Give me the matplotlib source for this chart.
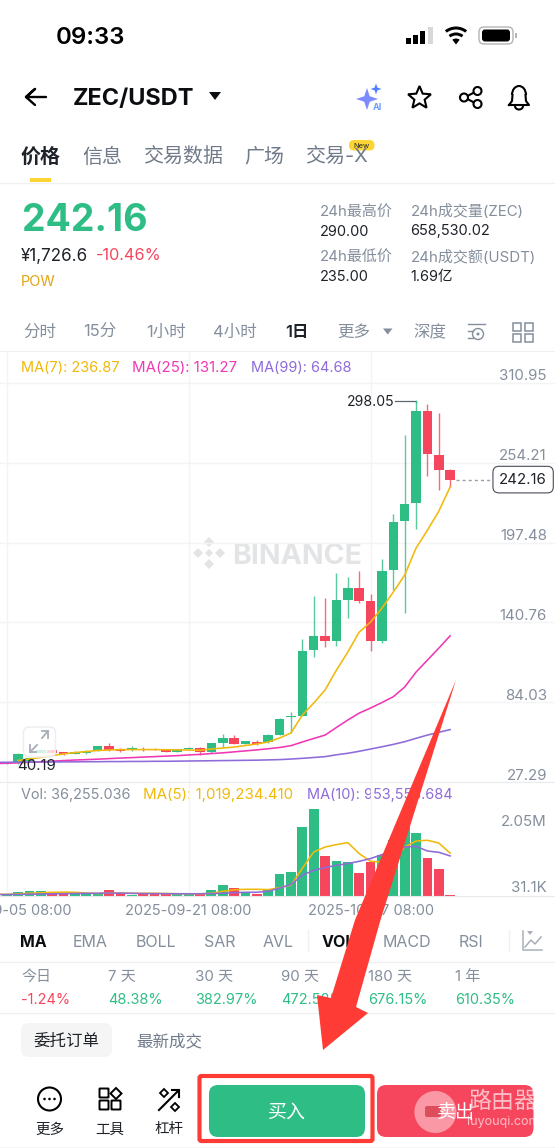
#!/usr/bin/env python3
"""ZEC/USDT daily candle screen: app chrome, price panel, volume panel, red arrow on top."""
import matplotlib
matplotlib.use("Agg")
import matplotlib.pyplot as plt
from matplotlib.patches import Circle, FancyBboxPatch, Polygon, Rectangle, Wedge, Arc
import numpy as np

# ── Data ───────────────────────────────────────────────────────────────

OPENS = [40.8, 41.9, 42.4, 48.3, 50.2, 48.6, 47.6, 47.9, 49.7, 52.8,
         50.2, 50.0, 51.1, 50.9, 50.7, 49.0, 50.9, 51.6, 49.0, 55.4,
         58.5, 54.7, 56.1, 55.7, 61.2, 73.6, 74.3, 121.1, 131.0, 127.5,
         156.6, 164.9, 155.9, 127.5, 177.9, 212.8, 225.9, 290.6, 259.9, 248.8]
CLOSES = [41.7, 47.4, 44.7, 50.2, 48.3, 47.2, 48.8, 49.5, 52.8, 50.2,
          49.7, 51.4, 50.4, 50.4, 49.0, 50.7, 51.8, 48.6, 55.0, 58.5,
          54.7, 56.4, 54.7, 61.1, 72.0, 74.3, 120.4, 131.0, 127.5, 156.6,
          164.9, 155.9, 127.5, 177.2, 212.1, 224.9, 290.6, 260.3, 249.0, 242.16]
HIGHS = [42.0, 47.8, 45.0, 50.6, 50.6, 49.0, 49.2, 50.2, 53.1, 55.4,
         51.4, 53.3, 52.1, 51.4, 51.1, 51.1, 52.3, 52.3, 55.0, 61.3,
         60.8, 56.8, 57.1, 61.5, 73.1, 77.2, 128.9, 159.4, 157.8, 175.9,
         172.7, 177.2, 160.8, 185.5, 217.4, 273.6, 298.05, 295.8, 289.7, 249.5]
LOWS = [40.5, 40.19, 42.2, 48.0, 48.0, 46.4, 47.2, 47.2, 49.5, 49.5,
        49.0, 49.5, 49.7, 50.0, 48.6, 48.6, 50.6, 46.7, 47.9, 52.1,
        54.2, 54.4, 53.7, 55.0, 60.8, 62.3, 74.3, 116.4, 123.5, 124.2,
        143.6, 154.7, 120.6, 125.9, 163.7, 147.6, 207.2, 245.0, 235.1, 236.9]
VOLUMES = [47, 94, 135, 125, 78, 54, 71, 64, 64, 142,
           78, 31, 64, 64, 54, 54, 54, 64, 149, 260,
           205, 78, 47, 140, 519, 573, 1635, 2050, 960, 842,
           819, 543, 809, 968, 1320, 1975, 1487, 913, 654, 36]

MA7 = [42.8, 43.8, 44.9, 46.3, 47.4, 48.4, 49.1, 49.9, 50.2, 50.5,
       50.5, 50.5, 50.5, 50.4, 50.3, 50.2, 50.0, 50.9, 51.6, 52.3,
       53.4, 54.5, 55.9, 58.7, 62.3, 75.0, 83.5, 92.8, 106.9, 119.7,
       133.9, 141.0, 150.9, 162.3, 174.3, 193.5, 206.2, 219.7, 236.87]
MA25 = [40.6, 40.8, 41.1, 41.5, 41.8, 42.3, 42.7, 43.1, 43.4, 43.7,
        44.1, 44.5, 44.8, 45.2, 45.5, 45.9, 46.2, 46.7, 47.1, 47.7,
        48.2, 48.9, 49.6, 50.3, 51.1, 52.0, 53.3, 55.9, 58.4, 60.8,
        66.2, 71.5, 76.4, 80.0, 83.9, 88.0, 94.9, 105.5, 114.0, 122.5, 131.27]
MA99 = [41.5, 41.5, 41.6, 41.6, 41.7, 41.7, 41.8, 41.8, 41.9, 41.9,
        42.0, 42.0, 42.1, 42.1, 42.2, 42.2, 42.3, 42.4, 42.5, 42.6,
        42.7, 42.8, 42.9, 43.0, 43.2, 43.4, 43.8, 44.3, 44.9, 45.5,
        46.8, 47.9, 49.3, 50.9, 52.5, 54.2, 56.1, 58.5, 60.8, 62.8, 64.68]
VOL_MA5 = [47, 47, 59, 71, 83, 94, 99, 94, 78, 66,
           78, 78, 71, 71, 71, 66, 61, 59, 59, 71,
           118, 153, 165, 165, 158, 205, 260, 661, 1045, 1163,
           1220, 1267, 1008, 826, 809, 850, 1163, 1305, 1322, 1258, 1019]
VOL_MA10 = [40, 42, 45, 50, 55, 58, 62, 66, 70, 72,
            76, 74, 70, 66, 64, 62, 60, 60, 60, 65,
            72, 85, 95, 95, 118, 196, 276, 496, 614, 677,
            732, 772, 826, 890, 984, 1045, 1163, 1180, 1069, 1038, 953]

PRICE_TICKS = [310.95, 254.21, 197.48, 140.76, 84.03, 27.29]
DATE_TICKS = [0, 16, 32]
DATE_LABELS = ["2025-09-05 08:00", "2025-09-21 08:00", "2025-10-07 08:00"]
LAST_PRICE = 242.16
HIGH_PRICE = 298.05
LOW_PRICE = 40.19

INDICATORS = ["MA", "EMA", "BOLL", "SAR", "AVL", "VOL", "MACD", "RSI"]
PERIODS = ["今日", "7 天", "30 天", "90 天", "180 天", "1 年"]
PERIOD_CHANGES = ["-1.24%", "48.38%", "382.97%", "472.58%", "676.15%", "610.35%"]

# ── Colors ─────────────────────────────────────────────────────────────

GREEN = "#2EBD85"
PINK = "#F6465D"
YELLOW = "#F0B90B"
MAGENTA = "#F037B5"
PURPLE = "#8E6BD8"
DARK = "#1E2329"
GRAY = "#848E9C"
TAB_GRAY = "#707A8A"
GRID = "#F3F4F5"
LINE = "#EEF0F2"
RED = "#FF3B35"

FONT = ["Inter", "Noto Sans CJK SC", "DejaVu Sans"]
PX = 0.72  # points per pixel at dpi 100
AXIS_SIZE = 15 * PX

W, H = 555, 1148
plt.rcParams["font.family"] = FONT

fig = plt.figure(figsize=(W / 100, H / 100), dpi=100, facecolor="white")


def pixel_axes(zorder):
    ax = fig.add_axes([0, 0, 1, 1], zorder=zorder)
    ax.set_xlim(0, W)
    ax.set_ylim(H, 0)
    ax.axis("off")
    ax.patch.set_alpha(0)
    return ax


def txt(ax, x, y, s, size, color=DARK, weight="normal", ha="center", **kw):
    ax.text(x, y, s, fontsize=size * PX, color=color, fontweight=weight,
            ha=ha, va="center_baseline", family=FONT, **kw)


def pill(ax, x0, y0, x1, y1, r, **kw):
    ax.add_patch(FancyBboxPatch((x0 + r, y0 + r), x1 - x0 - 2 * r, y1 - y0 - 2 * r,
                                boxstyle=f"round,pad={r}", **kw))


def poly(ax, pts, **kw):
    ax.add_patch(Polygon(pts, closed=True, **kw))


ui = pixel_axes(0)

# ── Status bar and title row ───────────────────────────────────────────

txt(ui, 90.5, 36, "09:33", 24, "#000000", "semibold")
for k, (bx, bh) in enumerate(zip([406, 413, 420, 427.5], [6, 9, 13, 17])):
    ui.add_patch(Rectangle((bx, 44 - bh), 5.2, bh, color="#000000" if k < 3 else "#D8D8D8", lw=0))
# y runs downward here, so the fan opens towards 270 degrees
ui.add_patch(Wedge((456, 44.5), 6, 232, 308, color="#000000", lw=0))
ui.add_patch(Wedge((456, 44.5), 12, 232, 308, width=3, color="#000000", lw=0))
ui.add_patch(Wedge((456, 44.5), 18, 232, 308, width=3, color="#000000", lw=0))
pill(ui, 479, 27, 513, 44, 5, fc="white", ec="#B5B5B5", lw=1)
pill(ui, 482, 29.5, 510, 41.5, 3, fc="#000000", ec="none")
ui.add_patch(Rectangle((515, 33), 1.5, 5, color="#B5B5B5", lw=0))

ui.plot([46, 26, 35, 26, 35], [97, 97, 89, 97, 105], color="#000000", lw=1.7, solid_capstyle="round")
txt(ui, 72.5, 97, "ZEC/USDT", 23.5, "#0B0E11", "bold", ha="left")
poly(ui, [(209, 92), (221, 92), (215, 100)], color="#0B0E11", lw=0)

# AI sparkle
for cx, cy, r, c in [(367, 99, 11, "#7C8CFF"), (376, 89, 5.5, "#4F7DFF")]:
    poly(ui, [(cx - r, cy), (cx - r * 0.25, cy - r * 0.25), (cx, cy - r), (cx + r * 0.25, cy - r * 0.25),
              (cx + r, cy), (cx + r * 0.25, cy + r * 0.25), (cx, cy + r), (cx - r * 0.25, cy + r * 0.25)],
         color=c, lw=0)
txt(ui, 377, 106.5, "AI", 9, "#6F9BFF", "bold")

# star, share, bell
star_a = np.deg2rad(np.arange(-90, 270, 36))
star_r = np.where(np.arange(10) % 2 == 0, 12, 5.4)
poly(ui, np.c_[419.5 + star_r * np.cos(star_a), 98 + star_r * np.sin(star_a)], fc="none", ec="#000000", lw=1.5)
ui.plot([477, 464.5, 477], [91, 97.5, 104], color="#000000", lw=1.5)
for cx, cy in [(477.5, 91), (464, 97.5), (477.5, 104)]:
    ui.add_patch(Circle((cx, cy), 4, fc="white", ec="#000000", lw=1.5, zorder=3))
ui.plot([509, 512, 512.5], [105, 101, 95], color="#000000", lw=1.5)
ui.add_patch(Arc((519, 95), 14, 18, theta1=180, theta2=360, ec="#000000", lw=1.5))
ui.plot([525.5, 526, 529, 509], [95, 101, 105, 105], color="#000000", lw=1.5)
ui.add_patch(Arc((519, 106), 8, 7, theta1=0, theta2=180, ec="#000000", lw=1.5))

# ── Tabs and quote block ───────────────────────────────────────────────

for x, s in zip([41, 102, 183, 264, 336], ["价格", "信息", "交易数据", "广场", "交易-X"]):
    first = s == "价格"
    txt(ui, x, 155, s, 20, DARK if first else TAB_GRAY, "bold" if first else "normal")
pill(ui, 349, 140, 374.5, 150.5, 5, fc="#FCD535", ec="none")
txt(ui, 361.5, 145.5, "New", 7.5, DARK)
ui.add_patch(Rectangle((30, 178), 21, 3.5, color="#FCD535", lw=0))
ui.plot([0, W], [182.5, 182.5], color=LINE, lw=1)

txt(ui, 21.5, 217, "242.16", 37.5, GREEN, "bold", ha="left")
txt(ui, 21, 254, "¥1,726.6", 17, DARK, ha="left")
txt(ui, 96, 254, "-10.46%", 16.3, PINK, ha="left")
txt(ui, 21, 281, "POW", 14.5, "#E0A50F", ha="left")

for x, s, y in [(320, "24h最高价", 210), (320, "24h最低价", 255.5),
                (410.5, "24h成交量(ZEC)", 210), (410.5, "24h成交额(USDT)", 255.5)]:
    txt(ui, x, y, s, 15, GRAY, ha="left")
for x, s, y in [(320, "290.00", 230), (320, "235.00", 275.5),
                (410.5, "658,530.02", 230), (410.5, "1.69亿", 275.5)]:
    txt(ui, x, y, s, 14.5, DARK, ha="left")

for x, s in zip([40, 100, 166, 235, 354, 430], ["分时", "15分", "1小时", "4小时", "更多", "深度"]):
    txt(ui, x, 331, s, 16.5, GRAY)
txt(ui, 296.5, 331, "1日", 16.5, DARK, "semibold")
poly(ui, [(383, 328.5), (392.5, 328.5), (387.7, 334.5)], color=GRAY, lw=0)

ui.plot([468, 485], [324, 324], color=GRAY, lw=1)
ui.plot([468, 473], [331, 331], color=GRAY, lw=1)
ui.plot([468, 473], [338, 338], color=GRAY, lw=1)
ui.add_patch(Circle((478, 334), 5.5, fc="none", ec=GRAY, lw=1))
ui.add_patch(Circle((478, 334), 1.5, color=GRAY, lw=0))
for qx, qy in [(513, 323), (525, 323), (513, 334), (525, 334)]:
    ui.add_patch(Rectangle((qx, qy), 8, 7.5, fc="none", ec=GRAY, lw=1.1))
ui.plot([0, W], [351, 351], color=LINE, lw=0.8)

# BINANCE watermark behind the candles
for dx, dy, r in [(0, -11, 5), (-11, 0, 5), (11, 0, 5), (0, 11, 5)]:
    poly(ui, [(209 + dx - r, 553 + dy), (209 + dx, 553 + dy - r), (209 + dx + r, 553 + dy), (209 + dx, 553 + dy + r)],
         color="#E3E4E6", lw=0)
poly(ui, [(205, 553), (209, 549), (213, 553), (209, 557)], color="#E3E4E6", lw=0)
txt(ui, 232.5, 553, "BINANCE", 28.5, "#E3E4E6", "bold", ha="left")

# ── Chart axes: pixel anchors ──────────────────────────────────────────

X0, DX = 6.7, 11.37
PRICE_TOP_PX, PRICE_BOT_PX, GRID_TOP_PX = 352.0, 782.3, 382.7
VOL_TOP_PX, VOL_BOT_PX = 783.0, 896.3
PRICE_PER_PX = (PRICE_TICKS[0] - PRICE_TICKS[-1]) / (PRICE_BOT_PX - GRID_TOP_PX)
VOL_PER_PX = 23.6  # thousands


def chart_axes(top, bottom):
    ax = fig.add_axes([0, 1 - bottom / H, 1, (bottom - top) / H], zorder=1)
    ax.patch.set_alpha(0)
    ax.set_xlim(-X0 / DX, (W - X0) / DX)
    for side in ["top", "left", "right"]:
        ax.spines[side].set_visible(False)
    ax.set_xticks(DATE_TICKS)
    ax.grid(True, color=GRID, lw=1)
    ax.set_axisbelow(True)
    ax.tick_params(length=0, labelleft=False, labelbottom=False)
    return ax


days = np.arange(len(OPENS))
opens, closes, highs, lows = map(np.array, (OPENS, CLOSES, HIGHS, LOWS))
candle_colors = [GREEN if c >= o else PINK for o, c in zip(opens, closes)]

# ── Price panel ────────────────────────────────────────────────────────

ax = chart_axes(PRICE_TOP_PX, PRICE_BOT_PX)
ax.set_ylim(PRICE_TICKS[-1], PRICE_TICKS[-1] + (PRICE_BOT_PX - PRICE_TOP_PX) * PRICE_PER_PX)
ax.set_yticks(PRICE_TICKS)
ax.spines["bottom"].set_color("#E9EBED")

ax.vlines(days, lows, highs, colors=candle_colors, lw=1.0, zorder=2, alpha=0.8)
ax.bar(days, closes - opens, bottom=opens, width=0.84, color=candle_colors, lw=0, zorder=3)
ax.plot(np.arange(1, 40), MA7, color=YELLOW, lw=1.15, zorder=5)
ax.plot(np.arange(-1, 40), MA25, color=MAGENTA, lw=1.15, zorder=4)
ax.plot(np.arange(-1, 40), MA99, color=PURPLE, lw=1.15, zorder=4)

for val in PRICE_TICKS:
    ax.annotate(f"{val:.2f}", (1, val), xycoords=("axes fraction", "data"),
                xytext=(-8 * PX, 8 * PX), textcoords="offset points",
                fontsize=AXIS_SIZE, color=GRAY, ha="right", va="center_baseline", family=FONT)

peak = int(np.argmax(highs))
ax.plot([peak - 1.85, peak], [HIGH_PRICE, HIGH_PRICE], color="#5E6673", lw=0.9, zorder=6)
ax.plot([peak, peak], [HIGH_PRICE, HIGHS[peak] - 0.5], color=GREEN, lw=1, zorder=6)
ax.text(peak - 1.9, HIGH_PRICE, f"{HIGH_PRICE:.2f}", fontsize=14 * PX, color=DARK,
        ha="right", va="center_baseline", family=FONT, zorder=6)
ax.text(0.9, LOW_PRICE - 0.6, f"{LOW_PRICE:.2f}", fontsize=AXIS_SIZE, color=DARK,
        ha="left", va="center_baseline", family=FONT, zorder=6)
ax.plot([39.5, 42.7], [LAST_PRICE, LAST_PRICE], color="#9AA0A8", lw=1, ls=(0, (2.2, 2.2)), zorder=6)
ax.annotate(f"{LAST_PRICE:.2f}", (1, LAST_PRICE), xycoords=("axes fraction", "data"),
            xytext=(-8 * PX, 0), textcoords="offset points",
            fontsize=AXIS_SIZE, color=DARK, ha="right", va="center", family=FONT, zorder=7,
            bbox=dict(boxstyle="round,pad=0.42,rounding_size=0.4", fc="white", ec="#474D57", lw=0.8))

txt(ui, 21, 366, "MA(7): 236.87", 14.5, YELLOW, ha="left")
txt(ui, 132, 366, "MA(25): 131.27", 15, MAGENTA, ha="left")
txt(ui, 251, 366, "MA(99): 64.68", 14.5, PURPLE, ha="left")

# ── Volume panel ───────────────────────────────────────────────────────

vax = chart_axes(VOL_TOP_PX, VOL_BOT_PX)
vax.set_ylim(0, (VOL_BOT_PX - VOL_TOP_PX) * VOL_PER_PX)
vax.set_yticks([])
vax.spines["bottom"].set_color("#E6E8EA")
vax.bar(days, VOLUMES, width=0.86, color=candle_colors, lw=0, zorder=2)
vax.plot(np.arange(-1, 40), VOL_MA5, color=YELLOW, lw=1.15, zorder=4)
vax.plot(np.arange(-1, 40), VOL_MA10, color=PURPLE, lw=1.15, zorder=4)
vax.set_xticks(DATE_TICKS, DATE_LABELS)
vax.tick_params(labelbottom=True, labelsize=14.6 * PX, labelcolor=GRAY, pad=5.2)
vax.annotate("2.05M", (1, max(VOLUMES)), xycoords=("axes fraction", "data"),
             xytext=(-8 * PX, -11 * PX), textcoords="offset points",
             fontsize=AXIS_SIZE, color=GRAY, ha="right", va="center_baseline", family=FONT)
vax.annotate("31.1K", (1, 31.1), xycoords=("axes fraction", "data"),
             xytext=(-8 * PX, 8 * PX), textcoords="offset points",
             fontsize=AXIS_SIZE, color=GRAY, ha="right", va="center_baseline", family=FONT)

txt(ui, 21, 793, "Vol: 36,255.036", 14.4, GRAY, ha="left")
txt(ui, 143, 793, "MA(5): 1,019,234.410", 15.1, YELLOW, ha="left")
txt(ui, 307, 793, "MA(10): 953,553.684", 14.5, PURPLE, ha="left")

# ── Indicator row, returns, order tabs ─────────────────────────────────

for x, s in zip([33.5, 90.5, 156, 219.5, 278, 338, 407, 471], INDICATORS):
    bold = s in ("MA", "VOL")
    txt(ui, x, 941, s, 16, "#0B0E11" if bold else GRAY, "bold" if bold else "normal")
ui.plot([308, 308], [930, 951], color=LINE, lw=1)
ui.plot([508.7, 508.7], [930, 951], color=LINE, lw=1)
ui.plot([523, 523, 542], [931, 950, 950], color="#A9AFB8", lw=1.1)
ui.plot([525, 531, 535, 541], [947, 940, 944, 937], color="#A9AFB8", lw=1.1)
poly(ui, [(527, 931), (533, 931), (530, 935)], color="#A9AFB8", lw=0)
ui.plot([0, W], [961.7, 961.7], color=LINE, lw=1)

for x, label, change in zip([21, 108, 194.7, 281.4, 368, 455], PERIODS, PERIOD_CHANGES):
    txt(ui, x, 975, label, 15, GRAY, ha="left")
    txt(ui, x, 999, change, 14.5, PINK if change.startswith("-") else GREEN, ha="left")
ui.plot([0, W], [1012.7, 1012.7], color=LINE, lw=1)

pill(ui, 21, 1023, 112, 1057, 8, fc="#F5F5F5", ec="none")
txt(ui, 66.5, 1039.5, "委托订单", 16.5, DARK, "medium")
txt(ui, 169, 1039.5, "最新成交", 16.5, TAB_GRAY, "medium")

# ── Bottom bar ─────────────────────────────────────────────────────────

ui.add_patch(Circle((49.5, 1099), 11.5, fc="none", ec="#000000", lw=1.5))
for dx in (-5, 0, 5):
    ui.add_patch(Circle((49.5 + dx, 1099), 1.3, color="#000000", lw=0))
for qx, qy in [(100, 1089), (100, 1101), (112, 1101)]:
    ui.add_patch(FancyBboxPatch((qx, qy), 8, 8, boxstyle="round,pad=0.5", fc="none", ec="#000000", lw=1.4))
poly(ui, [(116, 1088), (121.5, 1093.5), (116, 1099), (110.5, 1093.5)], fc="none", ec="#000000", lw=1.4)
ui.plot([159, 179, 172], [1110, 1090, 1090], color="#000000", lw=1.5)
ui.plot([179, 179], [1090, 1097], color="#000000", lw=1.5)
poly(ui, [(164, 1089), (168, 1093), (164, 1097), (160, 1093)], fc="none", ec="#000000", lw=1.3)
poly(ui, [(175, 1103), (179, 1107), (175, 1111), (171, 1107)], fc="none", ec="#000000", lw=1.3)
for x, s in zip([49.5, 109.5, 169], ["更多", "工具", "杠杆"]):
    txt(ui, x, 1128, s, 14.5, DARK)

pill(ui, 209, 1085, 365, 1137, 9, fc=GREEN, ec="none")
txt(ui, 286.5, 1111, "买入", 19, "white", "medium")
pill(ui, 377, 1085, 533.5, 1137, 9, fc=PINK, ec="none")
ui.plot([0, W], [1147.5, 1147.5], color="#333333", lw=0.8)

# ── Overlays drawn over the chart ──────────────────────────────────────

top = pixel_axes(2)
# expand button
pill(top, 23.5, 727, 55.5, 757, 6, fc=(1, 1, 1, 0.8), ec="#ECEDEF", lw=1)
top.plot([30, 37], [752, 745], color="#A8ADB5", lw=1.3)
top.plot([42, 48], [738, 731], color="#A8ADB5", lw=1.3)
top.plot([30, 30, 36], [745, 752, 752], color="#A8ADB5", lw=1.3)
top.plot([42, 48, 48], [731, 731, 738], color="#A8ADB5", lw=1.3)

# red arrow and highlight box
poly(top, [(456, 680), (380.5, 920), (356, 1007), (368, 1013), (323, 1050),
           (317, 995), (331, 998), (355, 920)], color=RED, lw=0)
pill(top, 199.5, 1076, 372.5, 1141, 2, fc="none", ec=RED, lw=3)

# site watermark over the sell button
top.add_patch(Circle((435.4, 1112), 21, color="white", alpha=0.45, lw=0))
pill(top, 425, 1106, 441, 1117, 2, fc="#D9404F", ec="none", alpha=0.85)
txt(top, 455.5, 1111, "卖出", 19, "white", "medium")
txt(top, 502.5, 1100, "路由器", 23, (1, 1, 1, 0.65), "medium")
txt(top, 503, 1120, "luyouqi.com", 12.5, (1, 1, 1, 0.65))

fig.savefig("out.png", dpi=100, facecolor="white")
